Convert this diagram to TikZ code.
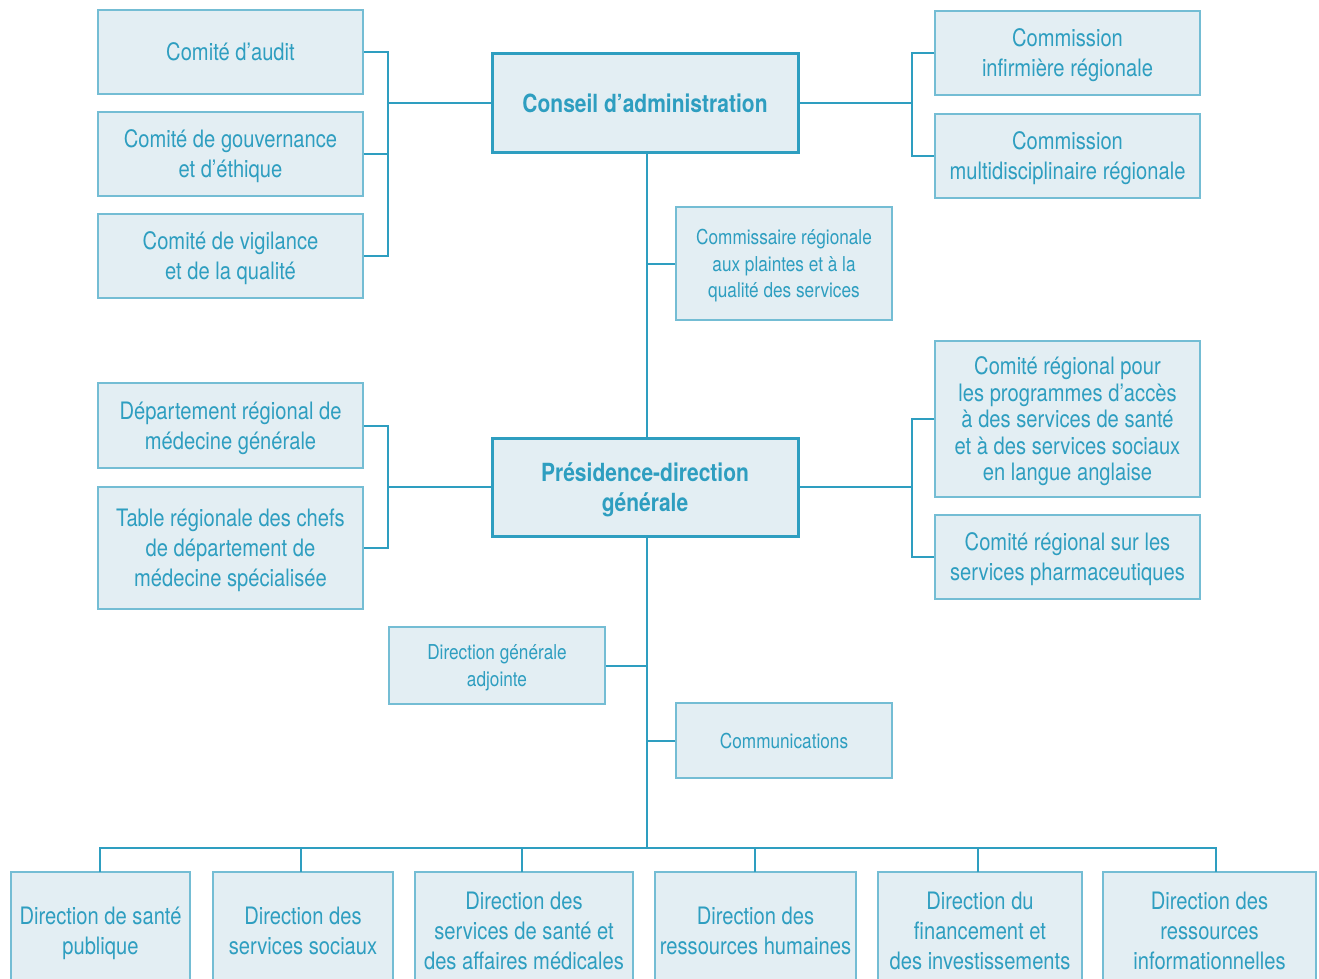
\documentclass[tikz,border=0pt]{standalone}
\usepackage{fontspec}
\setmainfont{TeX Gyre Heros}[FakeStretch=0.84]
\usetikzlibrary{positioning,calc}
\definecolor{teal}{HTML}{2E9EC0}
\definecolor{edge}{HTML}{74BDD4}
\definecolor{pale}{HTML}{E3EEF3}

\tikzset{
  unit/.style={draw=edge, line width=1.5pt, fill=pale, text=teal, align=center,
    inner sep=2pt, text depth=0pt, font=\fontsize{24}{30}\selectfont},
  dense/.style={unit, font=\fontsize{24}{26.5}\selectfont},
  chief/.style={unit, draw=teal, line width=3pt, font=\fontsize{25}{30}\selectfont\bfseries},
  minor/.style={unit, font=\fontsize{20.5}{26.5}\selectfont},
  link/.style={draw=teal, line width=2pt}
}

\begin{document}
\begin{tikzpicture}[x=1pt, y=-1pt]
  \clip (0,0) rectangle (1319,979);
  \fill[white] (0,0) rectangle (1319,979);

  % Top level
  \node[chief, minimum width=306, minimum height=98] (conseil) at (645,103) {Conseil d’administration};
  \node[unit, minimum width=265, minimum height=84] (audit) at (230.5,52) {Comité d’audit};
  \node[unit, minimum width=265, minimum height=84] (gouv) at (230.5,154) {Comité de gouvernance\\et d’éthique};
  \node[unit, minimum width=265, minimum height=84] (vigil) at (230.5,256) {Comité de vigilance\\et de la qualité};
  \node[unit, minimum width=265, minimum height=84] (infirm) at (1067.5,53) {Commission\\infirmière régionale};
  \node[unit, minimum width=265, minimum height=84] (multi) at (1067.5,156) {Commission\\multidisciplinaire régionale};
  \node[minor, minimum width=216, minimum height=113] (plaintes) at (784,263.5) {Commissaire régionale\\aux plaintes et à la\\qualité des services};

  % Second level
  \node[chief, minimum width=306, minimum height=98] (presid) at (645,487) {Présidence-direction\\générale};
  \node[unit, minimum width=265, minimum height=85] (medgen) at (230.5,425.5) {Département régional de\\médecine générale};
  \node[unit, minimum width=265, minimum height=122] (medspe) at (230.5,548) {Table régionale des chefs\\de département de\\médecine spécialisée};
  \node[dense, minimum width=265, minimum height=156] (anglais) at (1067.5,419) {Comité régional pour\\les programmes d’accès\\à des services de santé\\et à des services sociaux\\en langue anglaise};
  \node[unit, minimum width=265, minimum height=84] (pharma) at (1067.5,557) {Comité régional sur les\\services pharmaceutiques};
  \node[minor, minimum width=216, minimum height=77] (adjointe) at (497,665.5) {Direction générale\\adjointe};
  \node[minor, minimum width=216, minimum height=75] (comm) at (784,740.5) {Communications};

  % Directions
  \node[unit, minimum width=179, minimum height=118] (dsp) at (100.5,931) {Direction de santé\\publique};
  \node[unit, minimum width=180, minimum height=118] (dss) at (303,931) {Direction des\\services sociaux};
  \node[unit, minimum width=218, minimum height=118] (dsm) at (524,931) {Direction des\\services de santé et\\des affaires médicales};
  \node[unit, minimum width=201, minimum height=118] (drh) at (755.5,931) {Direction des\\ressources humaines};
  \node[unit, minimum width=204, minimum height=118] (dfi) at (980,931) {Direction du\\financement et\\des investissements};
  \node[unit, minimum width=213, minimum height=118] (dri) at (1209.5,931) {Direction des\\ressources\\informationnelles};

  % Brackets around the board
  \coordinate (lbA) at (388,103);
  \coordinate (rbA) at (912,103);
  \draw[link] (audit.east) -| (lbA) |- (vigil.east);
  \draw[link] (gouv.east) -- (gouv.east -| lbA);
  \draw[link] (lbA) -- (conseil.west);
  \draw[link] (infirm.west) -| (rbA) |- (multi.west);
  \draw[link] (conseil.east) -- (rbA);

  % Brackets around the presidency
  \coordinate (lbB) at (388,487);
  \coordinate (rbB) at (912,487);
  \draw[link] (medgen.east) -| (lbB) |- (medspe.east);
  \draw[link] (lbB) -- (presid.west);
  \draw[link] (anglais.west) -| (rbB) |- (pharma.west);
  \draw[link] (presid.east) -- (rbB);

  % Trunk
  \coordinate (bus) at (647,848);
  \draw[link] (conseil.south -| bus) -- (presid.north -| bus);
  \draw[link] (presid.south -| bus) -- (bus);
  \draw[link] (plaintes.west) -- (plaintes.west -| bus);
  \draw[link] (adjointe.east) -- (adjointe.east -| bus);
  \draw[link] (comm.west) -- (comm.west -| bus);

  % Bottom bus
  \draw[link] (100,872) |- (1216,848) -- (1216,872);
  \foreach \x in {301,522,755,978} {
    \draw[link] (\x,872) -- (\x,848);
  }
\end{tikzpicture}
\end{document}
